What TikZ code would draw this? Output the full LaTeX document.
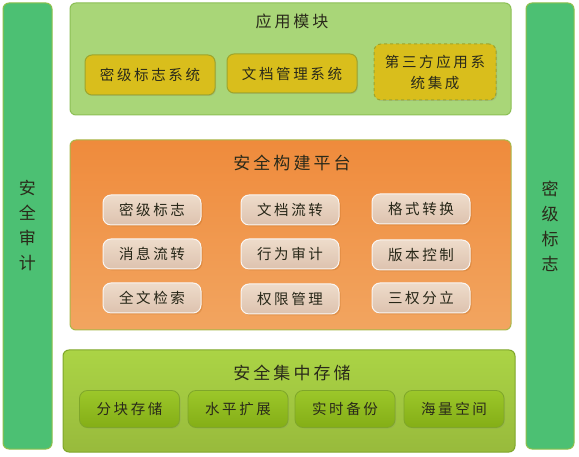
\documentclass[tikz,border=0pt]{standalone}
\usepackage{fontspec}
\setmainfont{Noto Sans CJK SC}
\newfontfamily\spc[LetterSpace=18]{Noto Sans CJK SC}
\usetikzlibrary{shadows}
\definecolor{barg}{HTML}{4CC073}
\definecolor{barb}{HTML}{8FBF4A}
\definecolor{topg}{HTML}{A9D678}
\definecolor{topb}{HTML}{8CBF55}
\definecolor{yel}{HTML}{D9BE1C}
\definecolor{yelb}{HTML}{9DA52C}
\definecolor{orgA}{HTML}{EF8B3C}
\definecolor{orgB}{HTML}{F2A560}
\definecolor{orgb}{HTML}{A8B84A}
\definecolor{beigeA}{HTML}{EEDCCB}
\definecolor{beigeB}{HTML}{DDC2AE}
\definecolor{botA}{HTML}{ABD445}
\definecolor{botB}{HTML}{98BA3C}
\definecolor{botb}{HTML}{7FA62A}
\definecolor{gbA}{HTML}{9CC72A}
\definecolor{gbB}{HTML}{84AE16}
\definecolor{txt}{HTML}{2A2A1A}
\tikzset{
  x=1pt,y=-1pt,
  bar/.style={draw=barb,line width=1pt,fill=barg,rounded corners=6pt},
  panel/.style={rounded corners=6pt,line width=1pt},
  ybox/.style={draw=yelb,line width=1pt,fill=yel,rounded corners=7pt,font=\spc\fontsize{14.5}{17}\selectfont,text=txt,drop shadow={shadow xshift=1pt,shadow yshift=-1pt,opacity=0.25}},
  bbox/.style={draw=white!85!beigeB,line width=1pt,top color=beigeA,bottom color=beigeB,rounded corners=8pt,minimum width=98pt,minimum height=30pt,font=\spc\fontsize{14.5}{17}\selectfont,text=txt!90!black,drop shadow={shadow xshift=1.5pt,shadow yshift=-1.5pt,opacity=0.2,fill=orange!60!black}},
  gbox/.style={draw=botb,line width=0.8pt,top color=gbA,bottom color=gbB,rounded corners=8pt,minimum width=100pt,minimum height=37pt,font=\spc\fontsize{14.5}{17}\selectfont,text=txt,drop shadow={shadow xshift=1pt,shadow yshift=-1pt,opacity=0.2}},
  ttl/.style={font=\spc\fontsize{16}{19}\selectfont,text=txt},
  vtxt/.style={font=\fontsize{17}{25}\selectfont,align=center,text=txt},
}
\begin{document}
\begin{tikzpicture}
\useasboundingbox (0,0) rectangle (579,457);
% side bars
\draw[bar] (3,3) rectangle (52,449);
\node[vtxt] (la) at (27.5,226) {安\\全\\审\\计};
\draw[bar] (526,3) rectangle (574,449);
\node[vtxt] (ra) at (550,226) {密\\级\\标\\志};
% top panel
\draw[panel,draw=topb,fill=topg] (70,3) rectangle (511,115);
\node[ttl] (t1) at (292,21) {应用模块};
\node[ybox,minimum width=130pt,minimum height=40pt] (a1) at (150,75) {密级标志系统};
\node[ybox,minimum width=130pt,minimum height=39pt] (a2) at (292,73.5) {文档管理系统};
\node[ybox,dashed,minimum width=122pt,minimum height=56pt,align=center,font=\spc\fontsize{14.5}{21}\selectfont] (a3) at (435,72) {第三方应用系\\统集成};
% middle panel
\draw[panel,draw=orgb,left color=orgA,right color=orgB,shading angle=0] (70,140) rectangle (511,330);
\shade[rounded corners=6pt,top color=orgA,bottom color=orgB,opacity=0.5] (71,141) rectangle (510,329);
\node[ttl,font=\spc\fontsize{17}{20}\selectfont] (t2) at (292,163) {安全构建平台};
\node[bbox] (b11) at (152,210) {密级标志};
\node[bbox] (b12) at (290,210) {文档流转};
\node[bbox] (b13) at (421,209) {格式转换};
\node[bbox] (b21) at (152,254) {消息流转};
\node[bbox] (b22) at (290,254) {行为审计};
\node[bbox] (b23) at (421,255) {版本控制};
\node[bbox] (b31) at (152,298) {全文检索};
\node[bbox] (b32) at (290,299) {权限管理};
\node[bbox] (b33) at (421,298) {三权分立};
% bottom panel
\draw[panel,draw=botb,top color=botA,bottom color=botB] (63,350) rectangle (515,452);
\node[ttl,font=\spc\fontsize{17}{20}\selectfont] (t3) at (292,373) {安全集中存储};
\node[gbox] (c1) at (129.5,409) {分块存储};
\node[gbox] (c2) at (238,409) {水平扩展};
\node[gbox] (c3) at (345,409) {实时备份};
\node[gbox] (c4) at (454,409) {海量空间};
\end{tikzpicture}
\end{document}
